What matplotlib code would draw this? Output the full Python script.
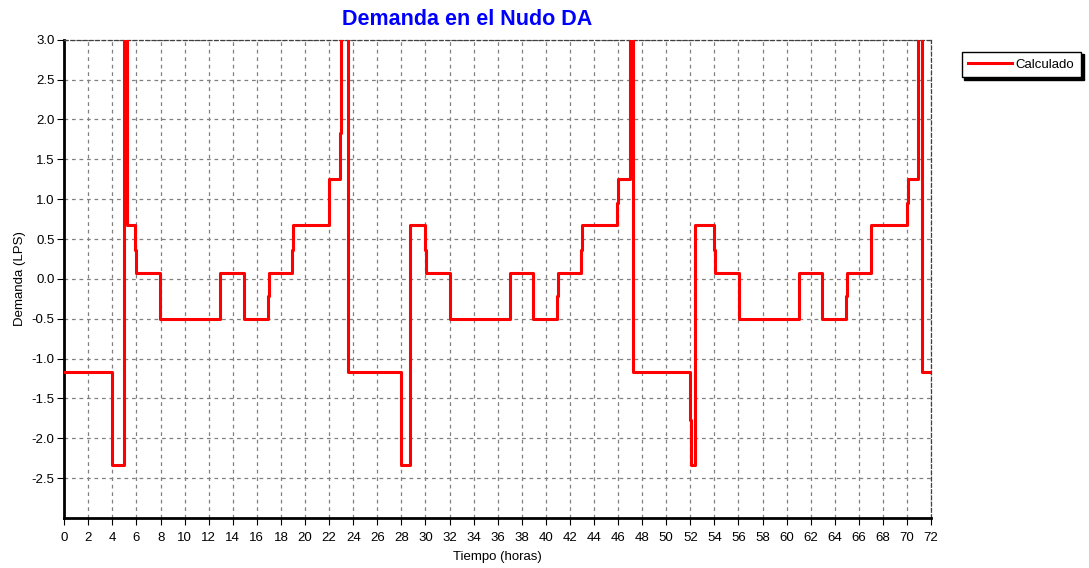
import matplotlib
matplotlib.use('Agg')
import matplotlib.pyplot as plt
import numpy as np

plt.rcParams['font.family'] = ['Liberation Sans', 'DejaVu Sans']

# demanda en el nudo DA (LPS), escalonada: cada valor vale desde su hora hasta la siguiente
tiempo = [0.0, 4.0, 4.98, 5.2, 5.86, 5.95, 7.95, 12.95, 14.95, 16.92, 17.0,
          18.95, 19.02, 21.95, 22.02, 22.9, 22.97, 23.55, 27.95, 28.68,
          29.95, 30.02, 32.02, 37.0, 38.97, 40.95, 41.02, 42.95, 43.02,
          45.95, 46.02, 46.97, 47.27, 52.0, 52.08, 52.35, 52.42, 53.95,
          54.02, 56.02, 61.0, 62.97, 64.9, 64.98, 66.97, 67.04, 70.0,
          70.07, 70.88, 71.28, 72.0]
demanda = [-1.17, -2.33, 4.5, 0.67, 0.36, 0.08, -0.5, 0.08, -0.5, -0.22, 0.08,
           0.36, 0.67, 0.95, 1.25, 1.83, 4.5, -1.17, -2.33, 0.67,
           0.36, 0.08, -0.5, 0.08, -0.5, -0.22, 0.08, 0.36, 0.67,
           0.95, 1.25, 4.5, -1.17, -1.77, -2.33, -0.85, 0.67, 0.36,
           0.08, -0.5, 0.08, -0.5, -0.22, 0.08, 0.36, 0.67, 0.95,
           1.25, 4.5, -1.17, -1.17]

xticks = np.arange(0, 73, 2)
yticks = np.arange(-2.5, 3.01, 0.5)

fig = plt.figure(figsize=(10.89, 5.68), dpi=100)
ax = fig.add_axes([0.059, 0.088, 0.796, 0.842])

ax.step(tiempo, demanda, where='post', color='#ff0000', linewidth=2.2,
        label='Calculado', zorder=3)

ax.set_xlim(0, 72)
ax.set_ylim(-3.0, 3.0)
ax.set_xticks(xticks)
ax.set_yticks(yticks)
ax.set_yticklabels(['%.1f' % v for v in yticks])
ax.tick_params(labelsize=9.5, length=5, width=0.8, direction='out')
ax.tick_params(axis='x', pad=5)
ax.tick_params(axis='y', pad=2)

ax.grid(True, color='#808080', linestyle=(0, (3, 3)), linewidth=0.9)
for s in ['left', 'bottom']:
    ax.spines[s].set_linewidth(2)
    ax.spines[s].set_color('black')
for s in ['top', 'right']:
    ax.spines[s].set_linestyle((0, (3, 2)))
    ax.spines[s].set_color('#404040')
    ax.spines[s].set_linewidth(0.9)

ax.set_xlabel('Tiempo (horas)', fontsize=9.5, labelpad=5)
ax.set_ylabel('Demanda (LPS)', fontsize=9.5, labelpad=4)
fig.text(0.429, 0.966, 'Demanda en el Nudo DA', color='#0000ff', fontsize=15.5,
         fontweight='bold', ha='center', va='center')

fig.legend(loc='upper left', bbox_to_anchor=(0.883, 0.909), fontsize=9.5,
           fancybox=False, edgecolor='black', framealpha=1,
           shadow={'color': 'black', 'alpha': 1}, handlelength=3.3,
           borderpad=0.5, handletextpad=0.3, borderaxespad=0)

fig.savefig('out.png', dpi=100)
